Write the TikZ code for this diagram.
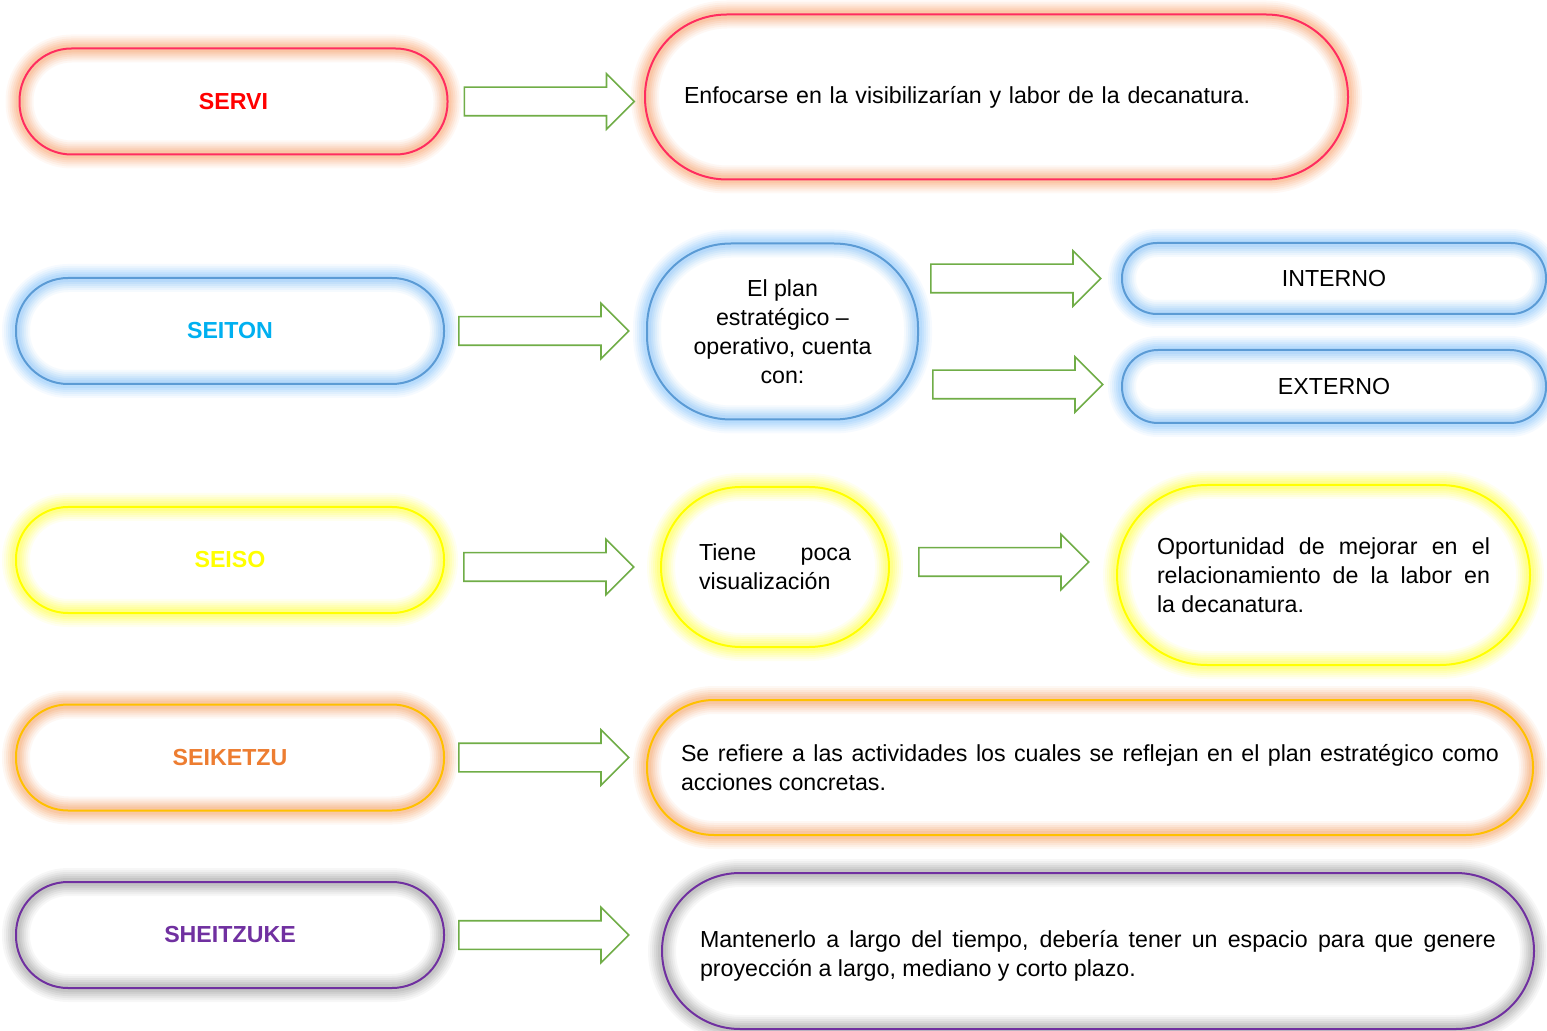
\documentclass[tikz,border=0pt]{standalone}
\usepackage{fontspec}
\setmainfont{Liberation Sans}
\usepackage{tikz}
\usetikzlibrary{calc,shapes.arrows}

\definecolor{servired}{HTML}{FF2D5F}
\definecolor{serviglow}{HTML}{F89A60}
\definecolor{seitonline}{HTML}{5B9BD5}
\definecolor{seitonglow}{HTML}{7CBEFA}
\definecolor{seitontext}{HTML}{00B0F0}
\definecolor{seisoline}{HTML}{FFFF00}
\definecolor{seisoglow}{HTML}{FFFF30}
\definecolor{seiketline}{HTML}{FFC000}
\definecolor{seiketglow}{HTML}{F49A58}
\definecolor{seikettext}{HTML}{ED7D31}
\definecolor{sheitline}{HTML}{7030A0}
\definecolor{sheitglow}{HTML}{949494}
\definecolor{arrowgreen}{HTML}{70AD47}

\tikzset{glow/.style={
  preaction={fill=white},
  preaction={draw=#1, line width=14pt, opacity=.07},
  preaction={draw=#1, line width=12pt, opacity=.09},
  preaction={draw=#1, line width=10pt, opacity=.11},
  preaction={draw=#1, line width=8pt, opacity=.13},
  preaction={draw=#1, line width=6pt, opacity=.15},
  preaction={draw=#1, line width=4pt, opacity=.18}}}

\begin{document}
\begin{tikzpicture}[x=0.5pt, y=-0.5pt]
\tikzstyle{textbox}=[draw, line width=1pt, inner sep=0pt, font=\fontsize{11.6}{14.5}\selectfont]
\tikzstyle{fivesbox}=[textbox, minimum width=214pt, minimum height=53pt, rounded corners=26pt, font=\fontsize{11.6}{14.5}\selectfont\bfseries]
\tikzstyle{blockarr}=[single arrow, draw=arrowgreen, line width=.8pt, fill=white, minimum height=85pt, inner xsep=0pt, inner ysep=6.75pt, single arrow head extend=6.75pt, anchor=tail]
\useasboundingbox (0,0) rectangle (1547,1031);

% SERVI
\node[fivesbox, draw=servired, glow=serviglow, text=red] (servi) at (233.5,101.5) {SERVI};
\node[textbox, draw=servired, glow=serviglow, minimum width=351.5pt, minimum height=82.5pt, rounded corners=41pt, text width=312.5pt, align=left] (enfoque) at (996.5,97) {Enfocarse en la visibilizarían y labor de la decanatura.};

% SEITON
\node[fivesbox, draw=seitonline, glow=seitonglow, text=seitontext] (seiton) at (230,331) {SEITON};
\node[textbox, draw=seitonline, glow=seitonglow, minimum width=135.5pt, minimum height=88pt, rounded corners=42pt, align=center] (plan) at (782.5,331.5) {El plan\\ estratégico –\\ operativo, cuenta\\ con:};
\node[textbox, draw=seitonline, glow=seitonglow, minimum width=212pt, minimum height=35.5pt, rounded corners=17.5pt] (interno) at (1334,278.5) {INTERNO};
\node[textbox, draw=seitonline, glow=seitonglow, minimum width=212pt, minimum height=36.5pt, rounded corners=18pt] (externo) at (1334,386.5) {EXTERNO};

% SEISO
\node[fivesbox, draw=seisoline, glow=seisoglow, text=seisoline] (seiso) at (230,560) {SEISO};
\node[textbox, draw=seisoline, glow=seisoglow, minimum width=114pt, minimum height=80pt, rounded corners=40pt, text width=76pt, align=justify] (tiene) at (775,567) {Tiene poca\linebreak visualización};
\node[textbox, draw=seisoline, glow=seisoglow, minimum width=206.5pt, minimum height=90pt, rounded corners=45pt, text width=166.5pt, align=justify] (oport) at (1323.5,575) {Oportunidad de mejorar en el\linebreak relacionamiento de la labor en\linebreak la decanatura.};

% SEIKETZU
\node[fivesbox, draw=seiketline, glow=seiketglow, text=seikettext] (seiketzu) at (230,757.5) {SEIKETZU};
\node[textbox, draw=seiketline, glow=seiketglow, minimum width=443pt, minimum height=67.5pt, rounded corners=33.5pt, text width=409pt, align=justify] (refiere) at (1090,767.5) {Se refiere a las actividades los cuales se reflejan en el plan estratégico como\linebreak acciones concretas.};

% SHEITZUKE
\node[fivesbox, draw=sheitline, glow=sheitglow, text=sheitline] (sheitzuke) at (230,935) {SHEITZUKE};
\node[textbox, draw=sheitline, glow=sheitglow, minimum width=436pt, minimum height=78pt, rounded corners=39pt, text width=398pt, align=justify] (mantener) at (1098,951) {\rule{0pt}{13.5pt}Mantenerlo a largo del tiempo, debería tener un espacio para que genere\linebreak proyección a largo, mediano y corto plazo.};

% flechas
\node[blockarr] (a1) at ($(servi.east)+(15,0)$) {};
\node[blockarr] (a2) at ($(seiton.east)+(13,0)$) {};
\node[blockarr] (a3) at ($(plan.east |- interno)+(11,0)$) {};
\node[blockarr] (a4) at ($(plan.east |- externo)+(13,-2)$) {};
\node[blockarr] (a5) at ($(seiso.east |- tiene)+(18,0)$) {};
\node[blockarr] (a6) at ($(tiene.east)+(28,-5)$) {};
\node[blockarr] (a7) at ($(seiketzu.east)+(13,0)$) {};
\node[blockarr] (a8) at ($(sheitzuke.east)+(13,0)$) {};

\end{tikzpicture}
\end{document}
